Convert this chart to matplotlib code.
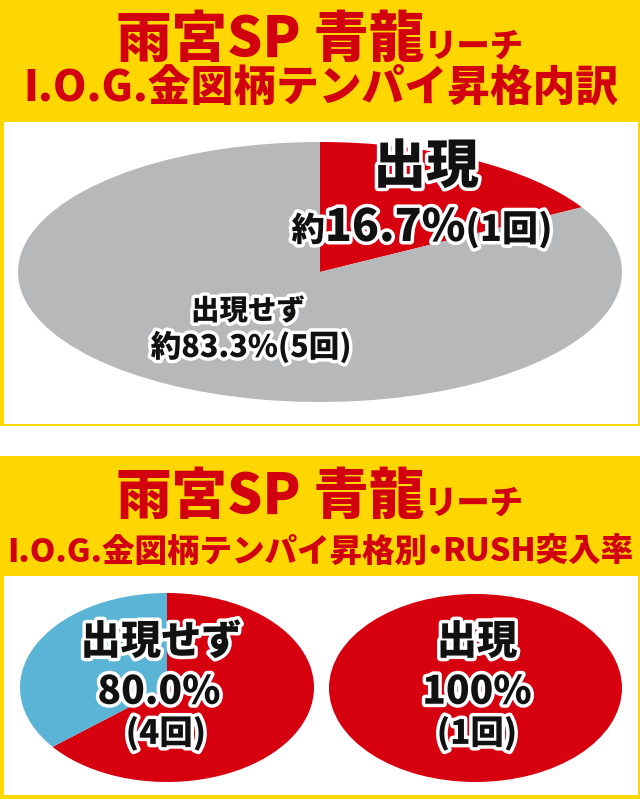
import matplotlib
matplotlib.use("Agg")
import matplotlib.pyplot as plt
from matplotlib.patches import Rectangle
import matplotlib.patheffects as pe

plt.rcParams['font.family'] = ['Noto Sans CJK JP', 'DejaVu Sans']

# ---------------- data ----------------
title_main = "雨宮SP 青龍"
title_suffix = "リーチ"
top_subtitle = "I.O.G.金図柄テンパイ昇格内訳"
bottom_subtitle_parts = ["I.O.G.金図柄テンパイ昇格別", "・", "RUSH突入率"]

top_labels = ["出現", "出現せず"]
top_pct = [16.7, 83.3]
top_counts = [1, 5]

bl_wedges = [64.2, 35.8]          # red / blue wedge sizes as drawn
bl_label = "出現せず"
bl_pct = 80.0
bl_count = 4

br_wedges = [100.0]
br_label = "出現"
br_pct = 100
br_count = 1

# ---------------- styles ----------------
YELLOW = "#FFD700"
RED = "#D7000F"
GRAY = "#B7B8BA"
BLUE = "#5AB4D6"
TITLE_RED = "#D2000F"

W, H = 640, 799
fig = plt.figure(figsize=(W / 100, H / 100), dpi=100)
fig.patch.set_facecolor("white")

bg = fig.add_axes([0, 0, 1, 1])
bg.set_xlim(0, W)
bg.set_ylim(H, 0)
bg.axis("off")

# panels
bg.add_patch(Rectangle((0, 0), W, 426, facecolor=YELLOW, edgecolor="none"))
bg.add_patch(Rectangle((3.5, 122), 634, 302, facecolor="white", edgecolor="none"))
bg.add_patch(Rectangle((0, 456), W, H - 456, facecolor=YELLOW, edgecolor="none"))
bg.add_patch(Rectangle((3.5, 576), 634, 219, facecolor="white", edgecolor="none"))


def pie_axes(x0, y0, x1, y1):
    return fig.add_axes([x0 / W, 1 - y1 / H, (x1 - x0) / W, (y1 - y0) / H])


def draw_pie(ax, vals, cols):
    ax.pie(vals, colors=cols, startangle=90, counterclock=False, radius=1.0,
           wedgeprops=dict(linewidth=0))
    ax.set_aspect("auto")
    ax.set_xlim(-1, 1)
    ax.set_ylim(-1, 1)
    ax.axis("off")


ax_top = pie_axes(18, 142, 622, 402)
draw_pie(ax_top, top_pct, [RED, GRAY])

ax_bl = pie_axes(20, 593, 314, 782)
draw_pie(ax_bl, bl_wedges, [RED, BLUE])

ax_br = pie_axes(329, 594, 622, 782)
draw_pie(ax_br, br_wedges, [RED])

# text overlay
tx = fig.add_axes([0, 0, 1, 1])
tx.set_xlim(0, W)
tx.set_ylim(H, 0)
tx.axis("off")
tx.patch.set_alpha(0)

renderer = fig.canvas.get_renderer()
outline = [pe.withStroke(linewidth=5, foreground="white")]


def rich(xc, yb, pieces, color="#111111", effects=None, weight="black"):
    objs = []
    for s, size in pieces:
        t = tx.text(0, yb, s, fontsize=size, color=color, fontweight=weight,
                    ha="left", va="baseline")
        if effects:
            t.set_path_effects(effects)
        objs.append(t)
    widths = [o.get_window_extent(renderer).width for o in objs]
    x = xc - sum(widths) / 2
    for o, w in zip(objs, widths):
        o.set_x(x)
        x += w
    return objs


def label(xc, yc, s, size, color="#111111", effects=outline):
    t = tx.text(xc, yc, s, fontsize=size, color=color, fontweight="black",
                ha="center", va="center")
    if effects:
        t.set_path_effects(effects)
    return t


def fitted(xc, yc, s, target_w, color):
    t = tx.text(xc, yc, s, fontsize=30, color=color, fontweight="black",
                ha="center", va="center")
    w = t.get_window_extent(renderer).width
    t.set_fontsize(30 * target_w / w)
    return t


def fitted_parts(xc, yb, parts, factors, target_w, color):
    objs = [tx.text(0, yb, s, fontsize=30, color=color, fontweight="black",
                    ha="left", va="baseline") for s in parts]
    ws = [o.get_window_extent(renderer).width for o in objs]
    total = sum(w * f for w, f in zip(ws, factors))
    size = 30 * target_w / total
    for o in objs:
        o.set_fontsize(size)
    ws = [o.get_window_extent(renderer).width for o in objs]
    total = sum(w * f for w, f in zip(ws, factors))
    x = xc - total / 2
    for o, w, f in zip(objs, ws, factors):
        o.set_x(x - (1 - f) * w / 2)
        x += w * f
    return objs


# headers
rich(320, 57, [(title_main, 40), (title_suffix, 24)], color=TITLE_RED)
fitted(321, 88, top_subtitle, 594, TITLE_RED)
rich(320, 514, [(title_main, 40), (title_suffix, 24)], color=TITLE_RED)
fitted_parts(320, 562, bottom_subtitle_parts, [1.0, 0.45, 1.0], 626, TITLE_RED)

# top pie labels
label(426, 167, top_labels[0], 38)
rich(422, 241, [("約", 24), (f"{top_pct[0]:.1f}%", 32), (f"({top_counts[0]}回)", 26)],
     effects=outline)
label(248, 311, top_labels[1], 20.5)
label(251, 347, f"約{top_pct[1]:.1f}%({top_counts[1]}回)", 22)

# bottom-left labels
label(161, 642, bl_label, 29)
label(159, 692, f"{bl_pct:.1f}%", 28)
label(166, 733, f"({bl_count}回)", 24)

# bottom-right labels
label(477, 642, br_label, 29)
label(477, 692, f"{br_pct}%", 28)
label(477, 733, f"({br_count}回)", 24)

fig.savefig("out.png", dpi=100, facecolor="white")
